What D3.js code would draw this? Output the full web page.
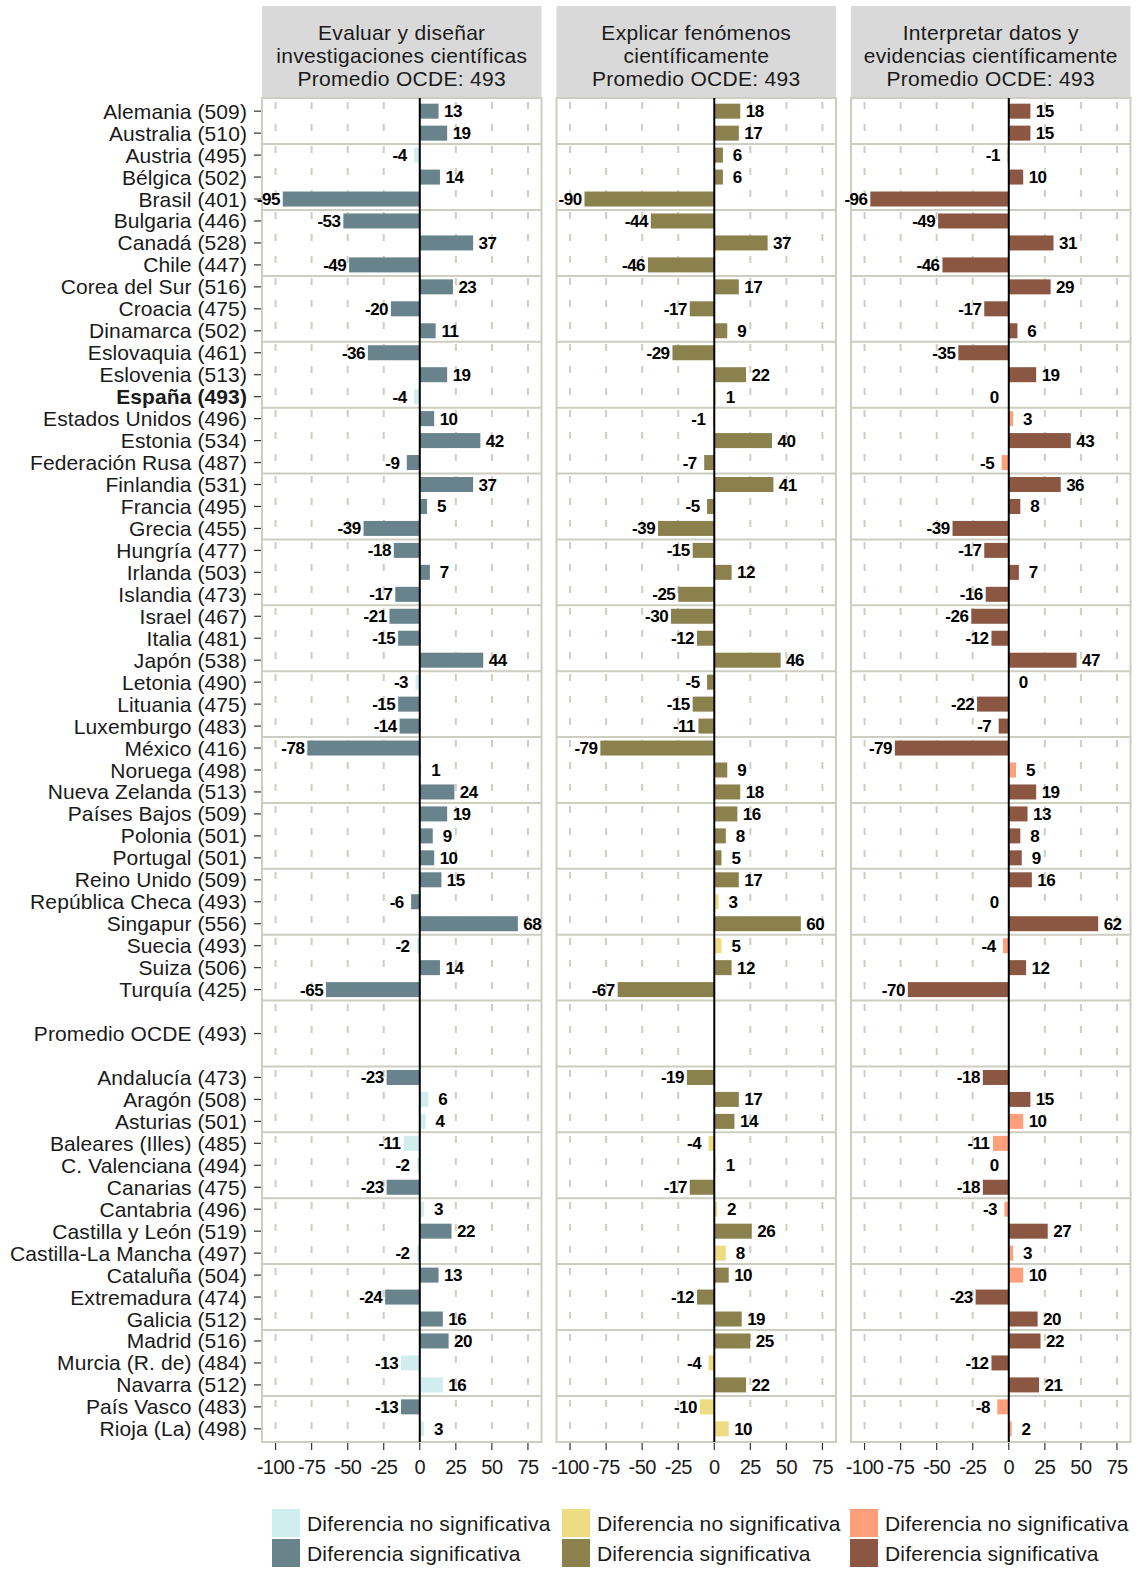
<!DOCTYPE html>
<html>
<head>
<meta charset="utf-8">
<script src="https://cdn.jsdelivr.net/npm/d3@7"></script>
<style>
  body { margin: 0; background: #fff; }
  svg text { font-family: "Liberation Sans", Arial, sans-serif; }
</style>
</head>
<body>
<div class="chart"></div>
<script>
// filas del eje ("" = fila vacía de separación)
var rows = [
  "Alemania (509)", "Australia (510)", "Austria (495)", "Bélgica (502)", "Brasil (401)",
  "Bulgaria (446)", "Canadá (528)", "Chile (447)", "Corea del Sur (516)", "Croacia (475)",
  "Dinamarca (502)", "Eslovaquia (461)", "Eslovenia (513)", "España (493)", "Estados Unidos (496)",
  "Estonia (534)", "Federación Rusa (487)", "Finlandia (531)", "Francia (495)", "Grecia (455)",
  "Hungría (477)", "Irlanda (503)", "Islandia (473)", "Israel (467)", "Italia (481)",
  "Japón (538)", "Letonia (490)", "Lituania (475)", "Luxemburgo (483)", "México (416)",
  "Noruega (498)", "Nueva Zelanda (513)", "Países Bajos (509)", "Polonia (501)", "Portugal (501)",
  "Reino Unido (509)", "República Checa (493)", "Singapur (556)", "Suecia (493)", "Suiza (506)",
  "Turquía (425)", "", "Promedio OCDE (493)", "",
  "Andalucía (473)", "Aragón (508)", "Asturias (501)", "Baleares (Illes) (485)", "C. Valenciana (494)",
  "Canarias (475)", "Cantabria (496)", "Castilla y León (519)", "Castilla-La Mancha (497)", "Cataluña (504)",
  "Extremadura (474)", "Galicia (512)", "Madrid (516)", "Murcia (R. de) (484)", "Navarra (512)",
  "País Vasco (483)", "Rioja (La) (498)"
];

var panelTitles = [
  ["Evaluar y diseñar", "investigaciones científicas", "Promedio OCDE: 493"],
  ["Explicar fenómenos", "científicamente", "Promedio OCDE: 493"],
  ["Interpretar datos y", "evidencias científicamente", "Promedio OCDE: 493"]
];

// diferencias con el promedio OCDE (null = sin dato)
var evaluar = [13, 19, -4, 14, -95, -53, 37, -49, 23, -20, 11, -36, 19, -4, 10, 42, -9, 37, 5, -39,
  -18, 7, -17, -21, -15, 44, -3, -15, -14, -78, 1, 24, 19, 9, 10, 15, -6, 68, -2, 14, -65,
  null, null, null,
  -23, 6, 4, -11, -2, -23, 3, 22, -2, 13, -24, 16, 20, -13, 16, -13, 3];
var explicar = [18, 17, 6, 6, -90, -44, 37, -46, 17, -17, 9, -29, 22, 1, -1, 40, -7, 41, -5, -39,
  -15, 12, -25, -30, -12, 46, -5, -15, -11, -79, 9, 18, 16, 8, 5, 17, 3, 60, 5, 12, -67,
  null, null, null,
  -19, 17, 14, -4, 1, -17, 2, 26, 8, 10, -12, 19, 25, -4, 22, -10, 10];
var interpretar = [15, 15, -1, 10, -96, -49, 31, -46, 29, -17, 6, -35, 19, -0, 3, 43, -5, 36, 8, -39,
  -17, 7, -16, -26, -12, 47, 0, -22, -7, -79, 5, 19, 13, 8, 9, 16, -0, 62, -4, 12, -70,
  null, null, null,
  -18, 15, 10, -11, -0, -18, -3, 27, 3, 10, -23, 20, 22, -12, 21, -8, 2];

// 1 = diferencia significativa
var sigEvaluar = [1,1,0,1,1,1,1,1,1,1,1,1,1,0,1,1,1,1,1,1,1,1,1,1,1,1,0,1,1,1,0,1,1,1,1,1,1,1,0,1,1,
  0,0,0, 1,0,0,0,0,1,0,1,0,1,1,1,1,0,0,1,0];
var sigExplicar = [1,1,1,1,1,1,1,1,1,1,1,1,1,0,0,1,1,1,1,1,1,1,1,1,1,1,1,1,1,1,1,1,1,1,1,1,0,1,0,1,1,
  0,0,0, 1,1,1,0,0,1,0,1,0,1,1,1,1,0,1,0,0];
var sigInterpretar = [1,1,0,1,1,1,1,1,1,1,1,1,1,0,0,1,0,1,1,1,1,1,1,1,1,1,0,1,1,1,0,1,1,1,1,1,0,1,0,1,1,
  0,0,0, 1,1,0,0,0,1,0,1,0,0,1,1,1,1,1,0,0];

var xTicks = [-100, -75, -50, -25, 0, 25, 50, 75];
var legendLabels = ["Diferencia no significativa", "Diferencia significativa"];

var panels = [
  { title: panelTitles[0], values: evaluar, sig: sigEvaluar, colors: ["#D1EEEE", "#68838B"] },
  { title: panelTitles[1], values: explicar, sig: sigExplicar, colors: ["#EEDC82", "#8B814C"] },
  { title: panelTitles[2], values: interpretar, sig: sigInterpretar, colors: ["#FFA07A", "#8B5742"] }
];

var svgWidth = 1138, svgHeight = 1571;
var panelLeft = [262, 556.5, 851];
var legendLeft = [272, 562, 850];
var panelW = 279.5;
var stripTop = 6, panelTop = 98, panelBottom = 1442;
var grid = "#CDCDC1";

var svg = d3.select(".chart").append("svg")
  .attr("width", svgWidth)
  .attr("height", svgHeight);

var y = d3.scalePoint()
  .domain(d3.range(rows.length))
  .range([panelTop, panelBottom])
  .padding(0.6);
var barH = 15;

var x = d3.scaleLinear().domain([-109.4, 84.4]).range([0, panelW]);

function isNeg(v) { return v < 0 || Object.is(v, -0); }

// etiquetas del eje y
var yAxis = svg.append("g");
rows.forEach(function(r, i) {
  if (r === "") return;
  yAxis.append("text")
    .attr("x", 247)
    .attr("y", y(i) + 7.5)
    .attr("text-anchor", "end")
    .attr("font-size", "21px")
    .attr("letter-spacing", "0.1px")
    .attr("font-weight", r.indexOf("España") === 0 ? "bold" : "normal")
    .attr("fill", "#1a1a1a")
    .text(r);
  yAxis.append("line")
    .attr("x1", 254).attr("x2", 261)
    .attr("y1", y(i)).attr("y2", y(i))
    .attr("stroke", "#333").attr("stroke-width", 1.2);
});

panels.forEach(function(p, k) {
  var g = svg.append("g").attr("transform", `translate(${panelLeft[k]}, 0)`);

  // cabecera
  g.append("rect")
    .attr("x", 0).attr("y", stripTop)
    .attr("width", panelW).attr("height", panelTop - stripTop - 1)
    .attr("fill", "#D9D9D9");
  p.title.forEach(function(t, j) {
    g.append("text")
      .attr("x", panelW / 2)
      .attr("y", 40 + j * 23)
      .attr("text-anchor", "middle")
      .attr("font-size", "21px")
      .attr("letter-spacing", "0.3px")
      .attr("fill", "#1a1a1a")
      .text(t);
  });

  // rejilla vertical discontinua
  g.selectAll(".vgrid")
    .data(xTicks.filter(d => d !== 0))
    .enter().append("line")
    .attr("x1", d => x(d)).attr("x2", d => x(d))
    .attr("y1", panelTop).attr("y2", panelBottom)
    .attr("stroke", grid)
    .attr("stroke-width", 2)
    .attr("stroke-dasharray", "7,15")
    .attr("stroke-dashoffset", -4);

  // separadores horizontales cada tres filas
  var seps = d3.range(rows.length - 1).filter(i => i % 3 === 1);
  g.selectAll(".hsep")
    .data(seps)
    .enter().append("line")
    .attr("x1", 0).attr("x2", panelW)
    .attr("y1", d => (y(d) + y(d + 1)) / 2)
    .attr("y2", d => (y(d) + y(d + 1)) / 2)
    .attr("stroke", grid)
    .attr("stroke-width", 2);

  // borde del panel
  g.append("rect")
    .attr("x", 0).attr("y", panelTop)
    .attr("width", panelW).attr("height", panelBottom - panelTop)
    .attr("fill", "none")
    .attr("stroke", grid)
    .attr("stroke-width", 2);

  var data = p.values.map(function(v, i) { return { v: v, i: i, s: p.sig[i] }; })
    .filter(d => d.v !== null);

  // barras
  g.selectAll(".bar")
    .data(data)
    .enter().append("rect")
    .attr("x", d => x(Math.min(0, d.v)))
    .attr("width", d => Math.abs(x(d.v) - x(0)))
    .attr("y", d => y(d.i) - barH / 2)
    .attr("height", barH)
    .attr("fill", d => p.colors[d.s]);

  // línea del cero
  g.append("line")
    .attr("x1", x(0)).attr("x2", x(0))
    .attr("y1", panelTop).attr("y2", panelBottom)
    .attr("stroke", "#000").attr("stroke-width", 2);

  // etiquetas de valor
  g.selectAll(".lab")
    .data(data)
    .enter().append("text")
    .attr("x", d => x(d.v + (isNeg(d.v) ? -10 : 10)))
    .attr("y", d => y(d.i) + 6)
    .attr("text-anchor", "middle")
    .attr("font-size", "17px")
    .attr("font-weight", "bold")
    .attr("letter-spacing", "-0.5px")
    .attr("fill", "#000")
    .text(d => String(Math.round(d.v)));

  // eje x
  var xAxis = g.append("g");
  xTicks.forEach(function(t) {
    xAxis.append("line")
      .attr("x1", x(t)).attr("x2", x(t))
      .attr("y1", panelBottom + 1).attr("y2", panelBottom + 8)
      .attr("stroke", "#333").attr("stroke-width", 1.2);
    xAxis.append("text")
      .attr("x", x(t))
      .attr("y", 1474)
      .attr("text-anchor", "middle")
      .attr("font-size", "20px")
      .attr("letter-spacing", "-0.6px")
      .attr("fill", "#1a1a1a")
      .text(t);
  });

  // leyenda
  var lg = svg.append("g").attr("transform", `translate(${legendLeft[k]}, 1509)`);
  legendLabels.forEach(function(l, j) {
    lg.append("rect")
      .attr("x", 0).attr("y", j * 30)
      .attr("width", 28).attr("height", 28)
      .attr("fill", p.colors[j]);
    lg.append("text")
      .attr("x", 35).attr("y", j * 30 + 22)
      .attr("font-size", "21px")
      .attr("letter-spacing", "0.2px")
      .attr("fill", "#1a1a1a")
      .text(l);
  });
});
</script>
</body>
</html>
